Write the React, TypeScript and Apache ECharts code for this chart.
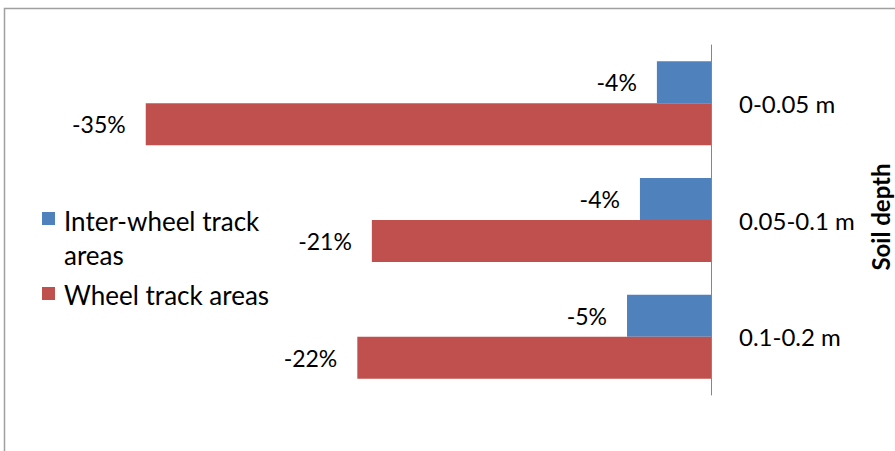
import React, { useEffect, useRef } from "react";
import * as echarts from "echarts";

const categories = ["0-0.05 m", "0.05-0.1 m", "0.1-0.2 m"];
const seriesNames = ["Inter-wheel track areas", "Wheel track areas"];
const interWheel = [-3.35, -4.4, -5.2];
const wheel = [-35.0, -21.0, -21.9];
const interWheelLabels = ["-4%", "-4%", "-5%"];
const wheelLabels = ["-35%", "-21%", "-22%"];
const legendLines = [["Inter-wheel track", "areas"], ["Wheel track areas"]];
const axisTitle = "Soil depth";

const BLUE = "#4F81BD";
const RED = "#C0504D";
const FONT = "Lato, 'Open Sans', sans-serif";

export default function App() {
  const ref = useRef<HTMLDivElement>(null);
  useEffect(() => {
    if (!ref.current) return;
    const chart = echarts.init(ref.current, undefined, { renderer: "svg" });
    const labelStyle = {
      show: true,
      position: "left" as const,
      distance: 20,
      color: "#000",
      fontSize: 23,
      fontFamily: FONT,
    };
    const legendText = (t: string, y: number) => ({
      type: "text",
      x: 64,
      y,
      silent: true,
      style: {
        text: t,
        fill: "#000",
        font: `26px ${FONT}`,
        verticalAlign: "middle",
      },
    });
    chart.setOption({
      animation: false,
      backgroundColor: "#fff",
      grid: { left: 65, right: 184, top: 45, bottom: 56, containLabel: false },
      xAxis: {
        type: "value",
        min: -40,
        max: 0,
        show: false,
      },
      yAxis: {
        type: "category",
        data: categories,
        inverse: true,
        position: "right",
        axisLine: { show: true, lineStyle: { color: "#868686", width: 1 } },
        axisTick: { show: false },
        axisLabel: {
          margin: 28,
          color: "#000",
          fontSize: 24,
          fontFamily: FONT,
        },
        splitLine: { show: false },
      },
      series: [
        {
          name: seriesNames[0],
          type: "bar",
          data: interWheel,
          itemStyle: { color: BLUE },
          barGap: "0%",
          barCategoryGap: "28%",
          label: {
            ...labelStyle,
            formatter: (p: any) => interWheelLabels[p.dataIndex],
          },
        },
        {
          name: seriesNames[1],
          type: "bar",
          data: wheel,
          itemStyle: { color: RED },
          barGap: "0%",
          barCategoryGap: "28%",
          label: {
            ...labelStyle,
            formatter: (p: any) => wheelLabels[p.dataIndex],
          },
        },
      ],
      graphic: [
        {
          type: "rect",
          shape: { x: 4.5, y: 8.5, width: 1000, height: 1000 },
          style: { fill: "none", stroke: "#a0a0a0", lineWidth: 1.5 },
          silent: true,
        },
        {
          type: "text",
          x: 880,
          y: 217,
          rotation: Math.PI / 2,
          silent: true,
          style: {
            text: axisTitle,
            fill: "#000",
            font: `bold 24px ${FONT}`,
            align: "center",
            verticalAlign: "middle",
          },
        },
        {
          type: "rect",
          shape: { x: 42, y: 212, width: 13, height: 13 },
          style: { fill: BLUE },
          silent: true,
        },
        legendText(legendLines[0][0], 221),
        legendText(legendLines[0][1], 255),
        {
          type: "rect",
          shape: { x: 42, y: 287, width: 13, height: 13 },
          style: { fill: RED },
          silent: true,
        },
        legendText(legendLines[1][0], 295),
      ],
    });
    return () => chart.dispose();
  }, []);
  return (
    <div
      ref={ref}
      style={{ position: "fixed", left: 0, top: 0, width: 895, height: 451 }}
    />
  );
}
